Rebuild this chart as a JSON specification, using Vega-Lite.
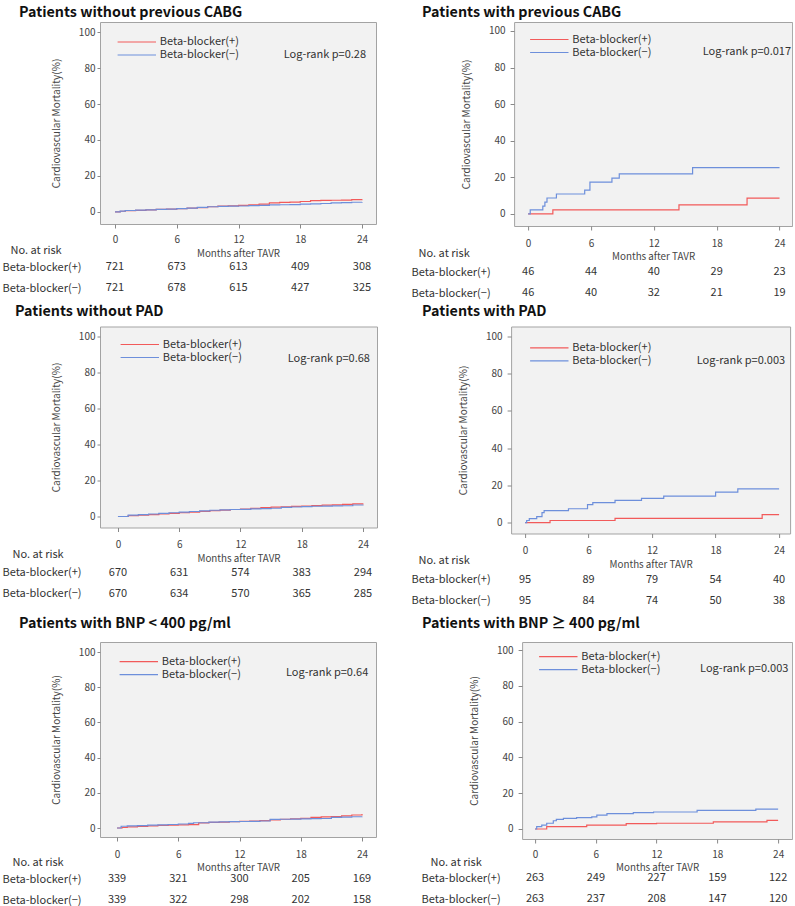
{
"$schema": "https://vega.github.io/schema/vega-lite/v6.json",
"background": "white",
"padding": {"left": 1, "top": 5, "right": 0, "bottom": 0},
"config": {
  "font": "Noto Sans CJK JP",
  "view": {"stroke": null},
  "title": {"fontSize": 14.3, "fontWeight": "bold", "color": "#111", "anchor": "start", "frame": "group"},
  "axis": {"grid": false, "domain": false, "labelColor": "#444", "titleColor": "#444", "titleFontWeight": "normal", "tickColor": "#888", "labelOverlap": false},
  "axisX": {"labelFontSize": 10, "labelPadding": 8, "tickSize": 4, "titleFontSize": 9.8, "titlePadding": 3.5, "labelFlush": false},
  "axisY": {"labelFontSize": 10, "labelPadding": 2, "tickSize": 3, "titleFontSize": 10, "titlePadding": 16.5, "tickCount": 10},
  "legend": {"symbolType": "M-3.2,0H3.2", "symbolSize": 144, "symbolStrokeWidth": 1.5, "symbolOpacity": 1, "labelFontSize": 11, "labelColor": "#333", "rowPadding": 1, "labelOffset": 16},
  "line": {"strokeWidth": 1.2, "interpolate": "step-after"},
  "text": {"fontSize": 11, "color": "#333"}
},
"datasets": {
  "km": [
    {"p":"P1","g":"+","t":0,"v":0},{"p":"P1","g":"+","t":0.5,"v":0.4},{"p":"P1","g":"+","t":1,"v":0.7},{"p":"P1","g":"+","t":2,"v":0.9},{"p":"P1","g":"+","t":3,"v":1.1},{"p":"P1","g":"+","t":4,"v":1.4},{"p":"P1","g":"+","t":5,"v":1.6},{"p":"P1","g":"+","t":6,"v":1.8},{"p":"P1","g":"+","t":7,"v":2.1},{"p":"P1","g":"+","t":8,"v":2.4},{"p":"P1","g":"+","t":9,"v":2.9},{"p":"P1","g":"+","t":10,"v":3.2},{"p":"P1","g":"+","t":11,"v":3.4},{"p":"P1","g":"+","t":12,"v":3.7},{"p":"P1","g":"+","t":13,"v":4.0},{"p":"P1","g":"+","t":14,"v":4.4},{"p":"P1","g":"+","t":15,"v":5.0},{"p":"P1","g":"+","t":16,"v":5.3},{"p":"P1","g":"+","t":17,"v":5.5},{"p":"P1","g":"+","t":18,"v":5.8},{"p":"P1","g":"+","t":19,"v":6.3},{"p":"P1","g":"+","t":20,"v":6.4},{"p":"P1","g":"+","t":21,"v":6.5},{"p":"P1","g":"+","t":22,"v":6.6},{"p":"P1","g":"+","t":23,"v":6.9},{"p":"P1","g":"+","t":24,"v":7.1},
    {"p":"P1","g":"−","t":0,"v":0},{"p":"P1","g":"−","t":0.5,"v":0.5},{"p":"P1","g":"−","t":1,"v":0.8},{"p":"P1","g":"−","t":2,"v":1.0},{"p":"P1","g":"−","t":3,"v":1.2},{"p":"P1","g":"−","t":4,"v":1.4},{"p":"P1","g":"−","t":5,"v":1.6},{"p":"P1","g":"−","t":6,"v":1.8},{"p":"P1","g":"−","t":7,"v":2.1},{"p":"P1","g":"−","t":8,"v":2.5},{"p":"P1","g":"−","t":9,"v":2.9},{"p":"P1","g":"−","t":10,"v":3.1},{"p":"P1","g":"−","t":11,"v":3.2},{"p":"P1","g":"−","t":12,"v":3.3},{"p":"P1","g":"−","t":13,"v":3.5},{"p":"P1","g":"−","t":14,"v":3.7},{"p":"P1","g":"−","t":15,"v":3.9},{"p":"P1","g":"−","t":16,"v":4.0},{"p":"P1","g":"−","t":17,"v":4.1},{"p":"P1","g":"−","t":18,"v":4.3},{"p":"P1","g":"−","t":19,"v":4.5},{"p":"P1","g":"−","t":20,"v":4.7},{"p":"P1","g":"−","t":21,"v":5.0},{"p":"P1","g":"−","t":22,"v":5.2},{"p":"P1","g":"−","t":23,"v":5.4},{"p":"P1","g":"−","t":24,"v":5.5},
    {"p":"P2","g":"+","t":0,"v":0},{"p":"P2","g":"+","t":2.36,"v":2.2},{"p":"P2","g":"+","t":14.4,"v":4.9},{"p":"P2","g":"+","t":20.9,"v":8.6},{"p":"P2","g":"+","t":24,"v":8.6},
    {"p":"P2","g":"−","t":0,"v":0},{"p":"P2","g":"−","t":0.2,"v":2.2},{"p":"P2","g":"−","t":1.4,"v":4.3},{"p":"P2","g":"−","t":1.6,"v":6.5},{"p":"P2","g":"−","t":1.8,"v":8.7},{"p":"P2","g":"−","t":2.7,"v":10.9},{"p":"P2","g":"−","t":5.4,"v":13.0},{"p":"P2","g":"−","t":5.9,"v":17.4},{"p":"P2","g":"−","t":8.0,"v":19.6},{"p":"P2","g":"−","t":8.7,"v":21.9},{"p":"P2","g":"−","t":15.7,"v":25.3},{"p":"P2","g":"−","t":24,"v":25.3},
    {"p":"P3","g":"+","t":0,"v":0},{"p":"P3","g":"+","t":1,"v":0.5},{"p":"P3","g":"+","t":2,"v":0.8},{"p":"P3","g":"+","t":3,"v":1.0},{"p":"P3","g":"+","t":4,"v":1.4},{"p":"P3","g":"+","t":5,"v":1.8},{"p":"P3","g":"+","t":6,"v":2.2},{"p":"P3","g":"+","t":7,"v":2.5},{"p":"P3","g":"+","t":8,"v":2.9},{"p":"P3","g":"+","t":9,"v":3.3},{"p":"P3","g":"+","t":10,"v":3.6},{"p":"P3","g":"+","t":11,"v":3.9},{"p":"P3","g":"+","t":12,"v":4.1},{"p":"P3","g":"+","t":13,"v":4.5},{"p":"P3","g":"+","t":14,"v":4.9},{"p":"P3","g":"+","t":15,"v":5.2},{"p":"P3","g":"+","t":16,"v":5.4},{"p":"P3","g":"+","t":17,"v":5.6},{"p":"P3","g":"+","t":18,"v":5.8},{"p":"P3","g":"+","t":19,"v":6.1},{"p":"P3","g":"+","t":20,"v":6.3},{"p":"P3","g":"+","t":21,"v":6.5},{"p":"P3","g":"+","t":22,"v":6.7},{"p":"P3","g":"+","t":23,"v":7.0},{"p":"P3","g":"+","t":24,"v":7.2},
    {"p":"P3","g":"−","t":0,"v":0},{"p":"P3","g":"−","t":1,"v":0.8},{"p":"P3","g":"−","t":2,"v":1.1},{"p":"P3","g":"−","t":3,"v":1.4},{"p":"P3","g":"−","t":4,"v":1.8},{"p":"P3","g":"−","t":5,"v":2.1},{"p":"P3","g":"−","t":6,"v":2.4},{"p":"P3","g":"−","t":7,"v":2.8},{"p":"P3","g":"−","t":8,"v":3.1},{"p":"P3","g":"−","t":9,"v":3.5},{"p":"P3","g":"−","t":10,"v":3.7},{"p":"P3","g":"−","t":11,"v":3.9},{"p":"P3","g":"−","t":12,"v":4.0},{"p":"P3","g":"−","t":13,"v":4.2},{"p":"P3","g":"−","t":14,"v":4.4},{"p":"P3","g":"−","t":15,"v":4.6},{"p":"P3","g":"−","t":16,"v":5.1},{"p":"P3","g":"−","t":17,"v":5.3},{"p":"P3","g":"−","t":18,"v":5.5},{"p":"P3","g":"−","t":19,"v":5.7},{"p":"P3","g":"−","t":20,"v":5.8},{"p":"P3","g":"−","t":21,"v":5.9},{"p":"P3","g":"−","t":22,"v":6.0},{"p":"P3","g":"−","t":23,"v":6.4},{"p":"P3","g":"−","t":24,"v":6.5},
    {"p":"P4","g":"+","t":0,"v":0},{"p":"P4","g":"+","t":2.36,"v":1.1},{"p":"P4","g":"+","t":8.5,"v":2.2},{"p":"P4","g":"+","t":22.4,"v":4.3},{"p":"P4","g":"+","t":24,"v":4.3},
    {"p":"P4","g":"−","t":0,"v":0},{"p":"P4","g":"−","t":0.15,"v":1.1},{"p":"P4","g":"−","t":0.4,"v":2.1},{"p":"P4","g":"−","t":1.1,"v":3.2},{"p":"P4","g":"−","t":1.6,"v":5.3},{"p":"P4","g":"−","t":1.8,"v":6.4},{"p":"P4","g":"−","t":4.1,"v":7.4},{"p":"P4","g":"−","t":5.9,"v":9.6},{"p":"P4","g":"−","t":6.4,"v":10.7},{"p":"P4","g":"−","t":8.5,"v":11.9},{"p":"P4","g":"−","t":11.0,"v":13.0},{"p":"P4","g":"−","t":13.1,"v":14.2},{"p":"P4","g":"−","t":18.0,"v":16.3},{"p":"P4","g":"−","t":20.1,"v":18.1},{"p":"P4","g":"−","t":24,"v":18.1},
    {"p":"P5","g":"+","t":0,"v":0},{"p":"P5","g":"+","t":0.5,"v":0.3},{"p":"P5","g":"+","t":1,"v":0.6},{"p":"P5","g":"+","t":2,"v":0.9},{"p":"P5","g":"+","t":3,"v":1.2},{"p":"P5","g":"+","t":4,"v":1.5},{"p":"P5","g":"+","t":5,"v":1.7},{"p":"P5","g":"+","t":6,"v":1.8},{"p":"P5","g":"+","t":7,"v":1.9},{"p":"P5","g":"+","t":8,"v":2.9},{"p":"P5","g":"+","t":9,"v":3.2},{"p":"P5","g":"+","t":10,"v":3.4},{"p":"P5","g":"+","t":11,"v":3.6},{"p":"P5","g":"+","t":12,"v":3.8},{"p":"P5","g":"+","t":13,"v":4.0},{"p":"P5","g":"+","t":14,"v":4.2},{"p":"P5","g":"+","t":15,"v":4.6},{"p":"P5","g":"+","t":16,"v":5.0},{"p":"P5","g":"+","t":17,"v":5.2},{"p":"P5","g":"+","t":18,"v":5.5},{"p":"P5","g":"+","t":19,"v":6.0},{"p":"P5","g":"+","t":20,"v":6.3},{"p":"P5","g":"+","t":21,"v":6.5},{"p":"P5","g":"+","t":22,"v":6.9},{"p":"P5","g":"+","t":23,"v":7.4},{"p":"P5","g":"+","t":24,"v":7.9},
    {"p":"P5","g":"−","t":0,"v":0},{"p":"P5","g":"−","t":0.4,"v":1.0},{"p":"P5","g":"−","t":1,"v":1.2},{"p":"P5","g":"−","t":2,"v":1.4},{"p":"P5","g":"−","t":3,"v":1.6},{"p":"P5","g":"−","t":4,"v":1.8},{"p":"P5","g":"−","t":5,"v":2.0},{"p":"P5","g":"−","t":6,"v":2.3},{"p":"P5","g":"−","t":7,"v":2.6},{"p":"P5","g":"−","t":7.5,"v":3.0},{"p":"P5","g":"−","t":9,"v":3.3},{"p":"P5","g":"−","t":10,"v":3.5},{"p":"P5","g":"−","t":11,"v":3.6},{"p":"P5","g":"−","t":12,"v":3.7},{"p":"P5","g":"−","t":13,"v":3.8},{"p":"P5","g":"−","t":14,"v":4.0},{"p":"P5","g":"−","t":15,"v":4.9},{"p":"P5","g":"−","t":16,"v":5.0},{"p":"P5","g":"−","t":17,"v":5.1},{"p":"P5","g":"−","t":18,"v":5.2},{"p":"P5","g":"−","t":19,"v":5.3},{"p":"P5","g":"−","t":20,"v":5.4},{"p":"P5","g":"−","t":21,"v":6.0},{"p":"P5","g":"−","t":22,"v":6.2},{"p":"P5","g":"−","t":23,"v":6.4},{"p":"P5","g":"−","t":24,"v":6.6},
    {"p":"P6","g":"+","t":0,"v":0},{"p":"P6","g":"+","t":1.15,"v":1.3},{"p":"P6","g":"+","t":5.1,"v":2.1},{"p":"P6","g":"+","t":9.0,"v":3.0},{"p":"P6","g":"+","t":12,"v":3.2},{"p":"P6","g":"+","t":17.6,"v":4.0},{"p":"P6","g":"+","t":22.9,"v":4.8},{"p":"P6","g":"+","t":24,"v":4.8},
    {"p":"P6","g":"−","t":0,"v":0},{"p":"P6","g":"−","t":0.16,"v":1.3},{"p":"P6","g":"−","t":0.66,"v":2.2},{"p":"P6","g":"−","t":1.15,"v":3.2},{"p":"P6","g":"−","t":1.8,"v":4.6},{"p":"P6","g":"−","t":2.1,"v":5.4},{"p":"P6","g":"−","t":2.8,"v":5.9},{"p":"P6","g":"−","t":4.1,"v":6.3},{"p":"P6","g":"−","t":5.6,"v":6.8},{"p":"P6","g":"−","t":6.1,"v":7.7},{"p":"P6","g":"−","t":7.1,"v":8.6},{"p":"P6","g":"−","t":9.7,"v":9.1},{"p":"P6","g":"−","t":11.7,"v":9.5},{"p":"P6","g":"−","t":16.0,"v":10.4},{"p":"P6","g":"−","t":21.8,"v":11.1},{"p":"P6","g":"−","t":24,"v":11.1}
  ],
  "risk": [
    {"p":"P1","g":"+","t":0,"n":"721"},{"p":"P1","g":"+","t":6,"n":"673"},{"p":"P1","g":"+","t":12,"n":"613"},{"p":"P1","g":"+","t":18,"n":"409"},{"p":"P1","g":"+","t":24,"n":"308"},
    {"p":"P1","g":"−","t":0,"n":"721"},{"p":"P1","g":"−","t":6,"n":"678"},{"p":"P1","g":"−","t":12,"n":"615"},{"p":"P1","g":"−","t":18,"n":"427"},{"p":"P1","g":"−","t":24,"n":"325"},
    {"p":"P2","g":"+","t":0,"n":"46"},{"p":"P2","g":"+","t":6,"n":"44"},{"p":"P2","g":"+","t":12,"n":"40"},{"p":"P2","g":"+","t":18,"n":"29"},{"p":"P2","g":"+","t":24,"n":"23"},
    {"p":"P2","g":"−","t":0,"n":"46"},{"p":"P2","g":"−","t":6,"n":"40"},{"p":"P2","g":"−","t":12,"n":"32"},{"p":"P2","g":"−","t":18,"n":"21"},{"p":"P2","g":"−","t":24,"n":"19"},
    {"p":"P3","g":"+","t":0,"n":"670"},{"p":"P3","g":"+","t":6,"n":"631"},{"p":"P3","g":"+","t":12,"n":"574"},{"p":"P3","g":"+","t":18,"n":"383"},{"p":"P3","g":"+","t":24,"n":"294"},
    {"p":"P3","g":"−","t":0,"n":"670"},{"p":"P3","g":"−","t":6,"n":"634"},{"p":"P3","g":"−","t":12,"n":"570"},{"p":"P3","g":"−","t":18,"n":"365"},{"p":"P3","g":"−","t":24,"n":"285"},
    {"p":"P4","g":"+","t":0,"n":"95"},{"p":"P4","g":"+","t":6,"n":"89"},{"p":"P4","g":"+","t":12,"n":"79"},{"p":"P4","g":"+","t":18,"n":"54"},{"p":"P4","g":"+","t":24,"n":"40"},
    {"p":"P4","g":"−","t":0,"n":"95"},{"p":"P4","g":"−","t":6,"n":"84"},{"p":"P4","g":"−","t":12,"n":"74"},{"p":"P4","g":"−","t":18,"n":"50"},{"p":"P4","g":"−","t":24,"n":"38"},
    {"p":"P5","g":"+","t":0,"n":"339"},{"p":"P5","g":"+","t":6,"n":"321"},{"p":"P5","g":"+","t":12,"n":"300"},{"p":"P5","g":"+","t":18,"n":"205"},{"p":"P5","g":"+","t":24,"n":"169"},
    {"p":"P5","g":"−","t":0,"n":"339"},{"p":"P5","g":"−","t":6,"n":"322"},{"p":"P5","g":"−","t":12,"n":"298"},{"p":"P5","g":"−","t":18,"n":"202"},{"p":"P5","g":"−","t":24,"n":"158"},
    {"p":"P6","g":"+","t":0,"n":"263"},{"p":"P6","g":"+","t":6,"n":"249"},{"p":"P6","g":"+","t":12,"n":"227"},{"p":"P6","g":"+","t":18,"n":"159"},{"p":"P6","g":"+","t":24,"n":"122"},
    {"p":"P6","g":"−","t":0,"n":"263"},{"p":"P6","g":"−","t":6,"n":"237"},{"p":"P6","g":"−","t":12,"n":"208"},{"p":"P6","g":"−","t":18,"n":"147"},{"p":"P6","g":"−","t":24,"n":"120"}
  ]
},
"spacing": 0.5,
"resolve": {"scale": {"color": "independent"}},
"vconcat": [
 {"hconcat": [
  {"bounds": "flush", "spacing": 32.5, "resolve": {"scale": {"color": "independent"}}, "vconcat": [
    {"width": 276, "height": 202, "view": {"fill": "#f2f2f2", "stroke": "#a3a3a3"},
     "title": {"text": "Patients without previous CABG", "dx": -81, "offset": 1.7},
     "layer": [
      {"data": {"name": "km"}, "transform": [{"filter": "datum.p == 'P1'"}], "mark": "line",
       "encoding": {
        "x": {"field": "t", "type": "quantitative", "scale": {"domain": [-1.46, 25.36], "nice": false, "zero": false}, "axis": {"values": [0,6,12,18,24], "title": "Months after TAVR", "labelOverlap": false, "labelPadding": 6.5}},
        "y": {"field": "v", "type": "quantitative", "scale": {"domain": [-6.7, 105.6], "nice": false, "zero": false}, "axis": {"values": [0,20,40,60,80,100], "tickCount": 10, "title": "Cardiovascular Mortality(%)", "labelOverlap": false}},
        "color": {"field": "g", "type": "nominal", "scale": {"domain": ["+", "−"], "range": ["#f25a5a", "#6d8fdb"]}, "legend": {"title": null, "symbolType": "M-3.2,0H3.2", "orient": "none", "legendX": 29.8, "legendY": 13, "labelExpr": "'Beta-blocker(' + datum.label + ')'"}}
       }},
      {"data": {"values": [{"s": "Log-rank p=0.28"}]}, "mark": {"type": "text", "align": "right", "baseline": "middle"},
       "encoding": {"x": {"datum": 24.39, "type": "quantitative"}, "y": {"datum": 87.2, "type": "quantitative"}, "text": {"field": "s"}}}
     ]},
    {"width": 276, "height": 38, "data": {"name": "risk"}, "transform": [{"filter": "datum.p == 'P1'"}],
     "mark": {"type": "text", "baseline": "middle"},
     "encoding": {
      "x": {"field": "t", "type": "quantitative", "scale": {"domain": [-1.46, 25.36], "nice": false, "zero": false}, "axis": null},
      "y": {"field": "g", "type": "nominal", "scale": {"domain": ["+", "−"], "range": [0, 42], "paddingInner": 0, "paddingOuter": 0}, "axis": {"title": "No. at risk", "titleX": -90, "titleY": -6.5, "titleAngle": 0, "titleAlign": "left", "titleBaseline": "middle", "titleFontSize": 11, "titleColor": "#333", "ticks": false, "tickSize": 0, "labelPadding": 19, "labelFontSize": 11, "labelColor": "#333", "labelExpr": "'Beta-blocker(' + datum.label + ')'"}},
      "text": {"field": "n", "type": "nominal"}
     }}
  ]},
  {"bounds": "flush", "spacing": 35.5, "resolve": {"scale": {"color": "independent"}}, "vconcat": [
    {"width": 278, "height": 204, "view": {"fill": "#f2f2f2", "stroke": "#a3a3a3"},
     "title": {"text": "Patients with previous CABG", "dx": -92, "offset": 1.7},
     "layer": [
      {"data": {"name": "km"}, "transform": [{"filter": "datum.p == 'P2'"}], "mark": "line",
       "encoding": {
        "x": {"field": "t", "type": "quantitative", "scale": {"domain": [-1.34, 25.2], "nice": false, "zero": false}, "axis": {"values": [0,6,12,18,24], "title": "Months after TAVR", "labelOverlap": false}},
        "y": {"field": "v", "type": "quantitative", "scale": {"domain": [-6.6, 104.9], "nice": false, "zero": false}, "axis": {"values": [0,20,40,60,80,100], "tickCount": 10, "title": "Cardiovascular Mortality(%)", "labelPadding": 5, "tickSize": 4, "labelOverlap": false}},
        "color": {"field": "g", "type": "nominal", "scale": {"domain": ["+", "−"], "range": ["#f25a5a", "#6d8fdb"]}, "legend": {"title": null, "symbolType": "M-3.2,0H3.2", "orient": "none", "legendX": 28.2, "legendY": 10.5, "labelExpr": "'Beta-blocker(' + datum.label + ')'"}}
       }},
      {"data": {"values": [{"s": "Log-rank p=0.017"}]}, "mark": {"type": "text", "align": "right", "baseline": "middle"},
       "encoding": {"x": {"datum": 25.1, "type": "quantitative"}, "y": {"datum": 88.4, "type": "quantitative"}, "text": {"field": "s"}}}
     ]},
    {"width": 278, "height": 38, "data": {"name": "risk"}, "transform": [{"filter": "datum.p == 'P2'"}],
     "mark": {"type": "text", "baseline": "middle"},
     "encoding": {
      "x": {"field": "t", "type": "quantitative", "scale": {"domain": [-1.34, 25.2], "nice": false, "zero": false}, "axis": null},
      "y": {"field": "g", "type": "nominal", "scale": {"domain": ["+", "−"], "range": [0, 42], "paddingInner": 0, "paddingOuter": 0}, "axis": {"title": "No. at risk", "titleX": -96, "titleY": -8.5, "titleAngle": 0, "titleAlign": "left", "titleBaseline": "middle", "titleFontSize": 11, "titleColor": "#333", "ticks": false, "tickSize": 0, "labelPadding": 24, "labelFontSize": 11, "labelColor": "#333", "labelExpr": "'Beta-blocker(' + datum.label + ')'"}},
      "text": {"field": "n", "type": "nominal"}
     }}
  ]}
 ], "spacing": 33.1, "resolve": {"scale": {"color": "independent"}}},
 {"hconcat": [
  {"bounds": "flush", "spacing": 34.5, "resolve": {"scale": {"color": "independent"}}, "vconcat": [
    {"width": 277, "height": 201, "view": {"fill": "#f2f2f2", "stroke": "#a3a3a3"},
     "title": {"text": "Patients without PAD", "dx": -85, "offset": 7.2},
     "layer": [
      {"data": {"name": "km"}, "transform": [{"filter": "datum.p == 'P3'"}], "mark": "line",
       "encoding": {
        "x": {"field": "t", "type": "quantitative", "scale": {"domain": [-1.76, 25.37], "nice": false, "zero": false}, "axis": {"values": [0,6,12,18,24], "title": "Months after TAVR", "labelOverlap": false}},
        "y": {"field": "v", "type": "quantitative", "scale": {"domain": [-6.1, 105.6], "nice": false, "zero": false}, "axis": {"values": [0,20,40,60,80,100], "tickCount": 10, "title": "Cardiovascular Mortality(%)", "labelOverlap": false}},
        "color": {"field": "g", "type": "nominal", "scale": {"domain": ["+", "−"], "range": ["#f25a5a", "#6d8fdb"]}, "legend": {"title": null, "symbolType": "M-3.2,0H3.2", "orient": "none", "legendX": 32.8, "legendY": 11, "labelExpr": "'Beta-blocker(' + datum.label + ')'"}}
       }},
      {"data": {"values": [{"s": "Log-rank p=0.68"}]}, "mark": {"type": "text", "align": "right", "baseline": "middle"},
       "encoding": {"x": {"datum": 24.68, "type": "quantitative"}, "y": {"datum": 87.6, "type": "quantitative"}, "text": {"field": "s"}}}
     ]},
    {"width": 277, "height": 38, "data": {"name": "risk"}, "transform": [{"filter": "datum.p == 'P3'"}],
     "mark": {"type": "text", "baseline": "middle"},
     "encoding": {
      "x": {"field": "t", "type": "quantitative", "scale": {"domain": [-1.76, 25.37], "nice": false, "zero": false}, "axis": null},
      "y": {"field": "g", "type": "nominal", "scale": {"domain": ["+", "−"], "range": [0, 42], "paddingInner": 0, "paddingOuter": 0}, "axis": {"title": "No. at risk", "titleX": -88, "titleY": -7.5, "titleAngle": 0, "titleAlign": "left", "titleBaseline": "middle", "titleFontSize": 11, "titleColor": "#333", "ticks": false, "tickSize": 0, "labelPadding": 19, "labelFontSize": 11, "labelColor": "#333", "labelExpr": "'Beta-blocker(' + datum.label + ')'"}},
      "text": {"field": "n", "type": "nominal"}
     }}
  ]},
  {"bounds": "flush", "spacing": 35.5, "resolve": {"scale": {"color": "independent"}}, "vconcat": [
    {"width": 279, "height": 207, "view": {"fill": "#f2f2f2", "stroke": "#a3a3a3"},
     "title": {"text": "Patients with PAD", "dx": -89, "offset": 7.2},
     "layer": [
      {"data": {"name": "km"}, "transform": [{"filter": "datum.p == 'P4'"}], "mark": "line",
       "encoding": {
        "x": {"field": "t", "type": "quantitative", "scale": {"domain": [-1.32, 25.04], "nice": false, "zero": false}, "axis": {"values": [0,6,12,18,24], "title": "Months after TAVR", "labelOverlap": false}},
        "y": {"field": "v", "type": "quantitative", "scale": {"domain": [-5.9, 105.4], "nice": false, "zero": false}, "axis": {"values": [0,20,40,60,80,100], "tickCount": 10, "title": "Cardiovascular Mortality(%)", "labelPadding": 5, "tickSize": 4, "labelOverlap": false}},
        "color": {"field": "g", "type": "nominal", "scale": {"domain": ["+", "−"], "range": ["#f25a5a", "#6d8fdb"]}, "legend": {"title": null, "symbolType": "M-3.2,0H3.2", "orient": "none", "legendX": 31.2, "legendY": 14.3, "labelExpr": "'Beta-blocker(' + datum.label + ')'"}}
       }},
      {"data": {"values": [{"s": "Log-rank p=0.003"}]}, "mark": {"type": "text", "align": "right", "baseline": "middle"},
       "encoding": {"x": {"datum": 24.57, "type": "quantitative"}, "y": {"datum": 86.7, "type": "quantitative"}, "text": {"field": "s"}}}
     ]},
    {"width": 279, "height": 46.5, "data": {"name": "risk"}, "transform": [{"filter": "datum.p == 'P4'"}],
     "mark": {"type": "text", "baseline": "middle"},
     "encoding": {
      "x": {"field": "t", "type": "quantitative", "scale": {"domain": [-1.32, 25.04], "nice": false, "zero": false}, "axis": null},
      "y": {"field": "g", "type": "nominal", "scale": {"domain": ["+", "−"], "range": [0, 42], "paddingInner": 0, "paddingOuter": 0}, "axis": {"title": "No. at risk", "titleX": -93, "titleY": -8.5, "titleAngle": 0, "titleAlign": "left", "titleBaseline": "middle", "titleFontSize": 11, "titleColor": "#333", "ticks": false, "tickSize": 0, "labelPadding": 21, "labelFontSize": 11, "labelColor": "#333", "labelExpr": "'Beta-blocker(' + datum.label + ')'"}},
      "text": {"field": "n", "type": "nominal"}
     }}
  ]}
 ], "spacing": 32.1, "resolve": {"scale": {"color": "independent"}}},
 {"hconcat": [
  {"bounds": "flush", "spacing": 31.5, "resolve": {"scale": {"color": "independent"}}, "vconcat": [
    {"width": 276, "height": 195, "view": {"fill": "#f2f2f2", "stroke": "#a3a3a3"},
     "title": {"text": "Patients with BNP < 400 pg/ml", "dx": -81, "offset": 10.7},
     "layer": [
      {"data": {"name": "km"}, "transform": [{"filter": "datum.p == 'P5'"}], "mark": "line",
       "encoding": {
        "x": {"field": "t", "type": "quantitative", "scale": {"domain": [-1.67, 25.37], "nice": false, "zero": false}, "axis": {"values": [0,6,12,18,24], "title": "Months after TAVR", "labelOverlap": false}},
        "y": {"field": "v", "type": "quantitative", "scale": {"domain": [-5.1, 105.7], "nice": false, "zero": false}, "axis": {"values": [0,20,40,60,80,100], "tickCount": 10, "title": "Cardiovascular Mortality(%)", "labelOverlap": false}},
        "color": {"field": "g", "type": "nominal", "scale": {"domain": ["+", "−"], "range": ["#f25a5a", "#6d8fdb"]}, "legend": {"title": null, "symbolType": "M-3.2,0H3.2", "orient": "none", "legendX": 31.8, "legendY": 12.7, "labelExpr": "'Beta-blocker(' + datum.label + ')'"}}
       }},
      {"data": {"values": [{"s": "Log-rank p=0.64"}]}, "mark": {"type": "text", "align": "right", "baseline": "middle"},
       "encoding": {"x": {"datum": 24.61, "type": "quantitative"}, "y": {"datum": 87.9, "type": "quantitative"}, "text": {"field": "s"}}}
     ]},
    {"width": 276, "height": 34, "data": {"name": "risk"}, "transform": [{"filter": "datum.p == 'P5'"}],
     "mark": {"type": "text", "baseline": "middle"},
     "encoding": {
      "x": {"field": "t", "type": "quantitative", "scale": {"domain": [-1.67, 25.37], "nice": false, "zero": false}, "axis": null},
      "y": {"field": "g", "type": "nominal", "scale": {"domain": ["+", "−"], "range": [0, 42], "paddingInner": 0, "paddingOuter": 0}, "axis": {"title": "No. at risk", "titleX": -88, "titleY": -6.5, "titleAngle": 0, "titleAlign": "left", "titleBaseline": "middle", "titleFontSize": 11, "titleColor": "#333", "ticks": false, "tickSize": 0, "labelPadding": 19, "labelFontSize": 11, "labelColor": "#333", "labelExpr": "'Beta-blocker(' + datum.label + ')'"}},
      "text": {"field": "n", "type": "nominal"}
     }}
  ]},
  {"bounds": "flush", "spacing": 28.5, "resolve": {"scale": {"color": "independent"}}, "vconcat": [
    {"width": 270, "height": 197, "view": {"fill": "#f2f2f2", "stroke": "#a3a3a3"},
     "title": {"text": "Patients with BNP ≥ 400 pg/ml", "dx": -100, "offset": 10.7},
     "layer": [
      {"data": {"name": "km"}, "transform": [{"filter": "datum.p == 'P6'"}], "mark": "line",
       "encoding": {
        "x": {"field": "t", "type": "quantitative", "scale": {"domain": [-1.28, 25.38], "nice": false, "zero": false}, "axis": {"values": [0,6,12,18,24], "title": "Months after TAVR", "labelOverlap": false, "labelPadding": 6}},
        "y": {"field": "v", "type": "quantitative", "scale": {"domain": [-5.6, 104.5], "nice": false, "zero": false}, "axis": {"values": [0,20,40,60,80,100], "tickCount": 10, "title": "Cardiovascular Mortality(%)", "labelPadding": 5, "tickSize": 4, "labelOverlap": false}},
        "color": {"field": "g", "type": "nominal", "scale": {"domain": ["+", "−"], "range": ["#f25a5a", "#6d8fdb"]}, "legend": {"title": null, "symbolType": "M-3.2,0H3.2", "orient": "none", "legendX": 29.2, "legendY": 7.7, "labelExpr": "'Beta-blocker(' + datum.label + ')'"}}
       }},
      {"data": {"values": [{"s": "Log-rank p=0.003"}]}, "mark": {"type": "text", "align": "right", "baseline": "middle"},
       "encoding": {"x": {"datum": 25.02, "type": "quantitative"}, "y": {"datum": 89.2, "type": "quantitative"}, "text": {"field": "s"}}}
     ]},
    {"width": 270, "height": 34, "data": {"name": "risk"}, "transform": [{"filter": "datum.p == 'P6'"}],
     "mark": {"type": "text", "baseline": "middle"},
     "encoding": {
      "x": {"field": "t", "type": "quantitative", "scale": {"domain": [-1.28, 25.38], "nice": false, "zero": false}, "axis": null},
      "y": {"field": "g", "type": "nominal", "scale": {"domain": ["+", "−"], "range": [0, 42], "paddingInner": 0, "paddingOuter": 0}, "axis": {"title": "No. at risk", "titleX": -92, "titleY": -5.5, "titleAngle": 0, "titleAlign": "left", "titleBaseline": "middle", "titleFontSize": 11, "titleColor": "#333", "ticks": false, "tickSize": 0, "labelPadding": 22, "labelFontSize": 11, "labelColor": "#333", "labelExpr": "'Beta-blocker(' + datum.label + ')'"}},
      "text": {"field": "n", "type": "nominal"}
     }}
  ]}
 ], "spacing": 43.1, "resolve": {"scale": {"color": "independent"}}}
]
}
